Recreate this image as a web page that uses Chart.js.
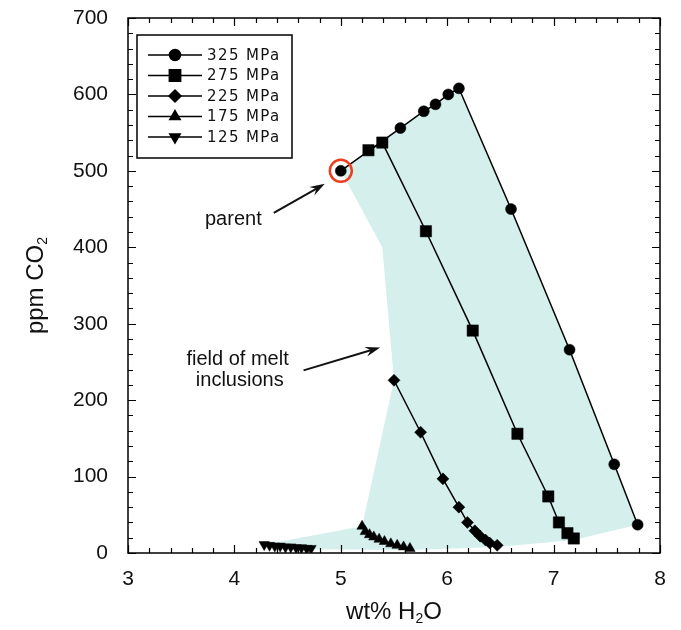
<!DOCTYPE html>
<html>
<head>
<meta charset="utf-8">
<script src="https://cdn.jsdelivr.net/npm/chart.js@4.4.0/dist/chart.umd.min.js"></script>
<style>
    html, body { margin: 0; padding: 0; background: #fff; }
</style>
</head>
<body>
<canvas id="co2Chart" width="681" height="630"></canvas>
<script>
// isobaric degassing paths, wt% H2O vs ppm CO2
const pressures = ['325 MPa', '275 MPa', '225 MPa', '175 MPa', '125 MPa']
const pointStyles = ['circle', 'rect', 'rectRot', 'triangle', 'triangle']
const pointRadii = [5.5, 8, 6, 6, 6]
const pointRotations = [0, 0, 0, 0, 180]

const h2o325 = [5.0, 5.56, 5.78, 5.89, 6.01, 6.11, 6.60, 7.15, 7.57, 7.79]
const co2325 = [500, 556, 578, 587, 600, 608, 450, 266, 116, 37]

const h2o275 = [5.26, 5.39, 5.80, 6.24, 6.66, 6.95, 7.05, 7.13, 7.19]
const co2275 = [527, 537, 421, 291, 156, 74, 40, 26, 19]

const h2o225 = [5.50, 5.75, 5.96, 6.11, 6.19, 6.26, 6.31, 6.36, 6.40, 6.47]
const co2225 = [226, 158, 97, 60, 40, 29, 22, 17, 13, 10]

const h2o175 = [5.20, 5.23, 5.27, 5.31, 5.36, 5.41, 5.47, 5.53, 5.59, 5.65]
const co2175 = [35, 28, 24, 21, 18, 15, 12, 10, 8, 6]

const h2o125 = [4.28, 4.33, 4.38, 4.43, 4.48, 4.53, 4.58, 4.63, 4.68, 4.72]
const co2125 = [11, 10, 9, 9, 8, 8, 7, 7, 6, 6]

// outline of the melt inclusion field
const fieldH2O = [5.0, 5.56, 5.78, 5.89, 6.01, 6.11, 6.60, 7.15, 7.57, 7.79, 7.19, 6.47, 5.65, 4.72, 4.28, 5.20, 5.50, 5.39, 5.0]
const fieldCO2 = [500, 556, 578, 587, 600, 608, 450, 266, 116, 37, 17, 8, 4, 5, 11, 35, 226, 400, 500]

const parent = { x: 5.0, y: 500 }

const xTicks = [3, 4, 5, 6, 7, 8]
const yTicks = [0, 100, 200, 300, 400, 500, 600, 700]

const font = "'Liberation Sans', Arial, Helvetica, sans-serif"

const toPoints = (xs, ys) => xs.map((x, i) => ({ x, y: ys[i] }))

const seriesData = [
    toPoints(h2o325, co2325),
    toPoints(h2o275, co2275),
    toPoints(h2o225, co2225),
    toPoints(h2o175, co2175),
    toPoints(h2o125, co2125),
]

const isobars = pressures.map((label, i) => ({
    label,
    data: seriesData[i],
    showLine: true,
    borderColor: '#000',
    borderWidth: 1.5,
    backgroundColor: '#000',
    pointStyle: pointStyles[i],
    pointRadius: pointRadii[i],
    pointRotation: pointRotations[i],
    pointBorderWidth: 0.5,
    pointBackgroundColor: '#000',
    pointBorderColor: '#000',
    order: 1,
}))

const arrow = (ctx, x1, y1, x2, y2) => {
    const a = Math.atan2(y2 - y1, x2 - x1)
    const c = Math.cos(a), s = Math.sin(a)
    const len = 15, half = 5
    ctx.beginPath()
    ctx.moveTo(x1, y1)
    ctx.lineTo(x2 - c * len * 0.6, y2 - s * len * 0.6)
    ctx.stroke()
    ctx.beginPath()
    ctx.moveTo(x2, y2)
    ctx.lineTo(x2 - c * len + s * half, y2 - s * len - c * half)
    ctx.lineTo(x2 - c * len * 0.65, y2 - s * len * 0.65)
    ctx.lineTo(x2 - c * len - s * half, y2 - s * len + c * half)
    ctx.closePath()
    ctx.fill()
}

// text with a lowered, smaller "2"
const drawSubscripted = (ctx, parts, size) => {
    const sub = Math.round(size * 0.6)
    const widths = parts.map(([t, isSub]) => {
        ctx.font = `${isSub ? sub : size}px ${font}`
        return ctx.measureText(t).width
    })
    let x = -widths.reduce((a, b) => a + b, 0) / 2
    parts.forEach(([t, isSub], i) => {
        ctx.font = `${isSub ? sub : size}px ${font}`
        ctx.fillText(t, x, isSub ? size * 0.3 : 0)
        x += widths[i]
    })
}

// axis titles drawn with true subscripts
const axisTitles = {
    id: 'axisTitles',
    afterDraw(chart) {
        const { ctx, chartArea: { left, right, top, bottom } } = chart
        ctx.save()
        ctx.fillStyle = '#111'
        ctx.textAlign = 'left'
        ctx.textBaseline = 'middle'
        ctx.save()
        ctx.translate((left + right) / 2, 612)
        drawSubscripted(ctx, [['wt% H', false], ['2', true], ['O', false]], 24)
        ctx.restore()
        ctx.save()
        ctx.translate(36, (top + bottom) / 2)
        ctx.rotate(-Math.PI / 2)
        drawSubscripted(ctx, [['ppm CO', false], ['2', true]], 24)
        ctx.restore()
        ctx.restore()
    }
}

// frame with inward major/minor ticks on all four sides
const frameTicks = {
    id: 'frameTicks',
    afterDraw(chart) {
        const { ctx, chartArea: { left, right, top, bottom }, scales: { x, y } } = chart
        ctx.save()
        ctx.strokeStyle = '#000'
        ctx.lineWidth = 1.5
        ctx.strokeRect(left, top, right - left, bottom - top)
        ctx.lineWidth = 1.2
        ctx.beginPath()
        for (let i = 0; i <= 25; i++) {
            const v = 3 + i * 0.2
            const px = Math.round(x.getPixelForValue(v)) + 0.5
            const len = i % 5 === 0 ? 8 : 5
            ctx.moveTo(px, bottom); ctx.lineTo(px, bottom - len)
            ctx.moveTo(px, top); ctx.lineTo(px, top + len)
        }
        for (let i = 0; i <= 35; i++) {
            const v = i * 20
            const py = Math.round(y.getPixelForValue(v)) + 0.5
            const len = i % 5 === 0 ? 8 : 5
            ctx.moveTo(left, py); ctx.lineTo(left + len, py)
            ctx.moveTo(right, py); ctx.lineTo(right - len, py)
        }
        ctx.stroke()
        ctx.restore()
    }
}

// labels and arrows placed in data units
const notes = {
    id: 'notes',
    afterDatasetsDraw(chart) {
        const { ctx, scales: { x, y } } = chart
        const X = v => x.getPixelForValue(v)
        const Y = v => y.getPixelForValue(v)
        ctx.save()
        ctx.fillStyle = '#111'
        ctx.strokeStyle = '#111'
        ctx.lineWidth = 2
        ctx.font = `20px ${font}`
        ctx.textAlign = 'center'
        ctx.textBaseline = 'middle'
        ctx.fillText('parent', X(3.99), Y(436))
        ctx.fillText('field of melt', X(4.03), Y(253))
        ctx.fillText('inclusions', X(4.05), Y(226))
        arrow(ctx, X(4.37), Y(445), X(4.85), Y(483))
        arrow(ctx, X(4.65), Y(239), X(5.37), Y(269))
        ctx.restore()
    }
}

const legendBox = {
    id: 'legendBox',
    afterDraw(chart) {
        const { ctx, chartArea } = chart
        const x0 = chartArea.left + 9, y0 = chartArea.top + 17
        const w = 155, h = 123
        ctx.save()
        ctx.fillStyle = '#fff'
        ctx.fillRect(x0, y0, w, h)
        ctx.strokeStyle = '#000'
        ctx.lineWidth = 1.5
        ctx.strokeRect(x0, y0, w, h)
        ctx.font = `15px 'DejaVu Sans', sans-serif`
        ctx.letterSpacing = '1.4px'
        ctx.textBaseline = 'middle'
        pressures.forEach((label, i) => {
            const yy = y0 + 20 + i * 20.5
            ctx.lineWidth = 1.5
            ctx.strokeStyle = '#000'
            ctx.beginPath()
            ctx.moveTo(x0 + 11, yy)
            ctx.lineTo(x0 + 65, yy)
            ctx.stroke()
            ctx.fillStyle = '#000'
            Chart.helpers.drawPoint(ctx, {
                pointStyle: pointStyles[i],
                radius: pointRadii[i],
                rotation: pointRotations[i],
                borderWidth: 0.5,
            }, x0 + 38, yy)
            ctx.fillStyle = '#111'
            ctx.fillText(label, x0 + 70, yy + 1)
        })
        ctx.restore()
    }
}

new Chart(document.getElementById('co2Chart'), {
    type: 'scatter',
    data: {
        datasets: [
            {
                label: 'field',
                data: toPoints(fieldH2O, fieldCO2),
                showLine: true,
                borderWidth: 0,
                borderColor: 'rgba(0,0,0,0)',
                backgroundColor: '#d4efec',
                pointRadius: 0,
                fill: 'shape',
                order: 10,
            },
            ...isobars,
            {
                label: 'parent',
                data: [parent],
                pointRadius: 11,
                pointBorderWidth: 2.5,
                pointBorderColor: '#ee3d1f',
                pointBackgroundColor: 'rgba(0,0,0,0)',
                order: 0,
            },
        ]
    },
    options: {
        responsive: false,
        devicePixelRatio: 1,
        animation: false,
        layout: { padding: { top: 18, right: 21, bottom: 0, left: 0 } },
        plugins: {
            legend: { display: false },
            tooltip: { enabled: false },
        },
        scales: {
            x: {
                type: 'linear',
                min: 3,
                max: 8,
                afterBuildTicks: scale => { scale.ticks = xTicks.map(value => ({ value })) },
                afterFit: scale => {
                    scale.height = 77
                    scale.paddingLeft = 0
                    scale.paddingRight = 0
                },
                grid: { display: false, drawTicks: false },
                border: { display: false },
                ticks: { color: '#111', font: { family: font, size: 21 }, padding: 14 },
            },
            y: {
                type: 'linear',
                min: 0,
                max: 700,
                afterBuildTicks: scale => { scale.ticks = yTicks.map(value => ({ value })) },
                afterFit: scale => {
                    scale.width = 128
                    scale.paddingTop = 0
                    scale.paddingBottom = 0
                },
                grid: { display: false, drawTicks: false },
                border: { display: false },
                ticks: { color: '#111', font: { family: font, size: 21 }, padding: 20 },
            },
        },
    },
    plugins: [frameTicks, notes, legendBox, axisTitles],
})
</script>
</body>
</html>
